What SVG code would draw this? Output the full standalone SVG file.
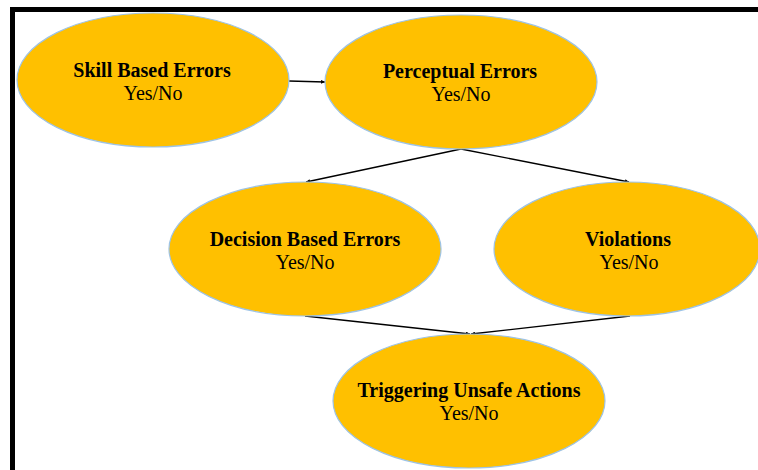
<svg xmlns="http://www.w3.org/2000/svg" width="758" height="470" viewBox="0 0 758 470">
  <style>
    .node ellipse { fill: #FFC000; stroke: #9DC3E6; stroke-width: 1.2; }
    .title { font-family: "Liberation Serif", "Times New Roman", serif; font-weight: bold; font-size: 20px; fill: #000; text-anchor: middle; }
    .sub { font-family: "Liberation Serif", "Times New Roman", serif; font-size: 20px; fill: #000; text-anchor: middle; }
    .edge { stroke: #000; stroke-width: 1.3; fill: none; marker-end: url(#arrow); }
  </style>
  <defs>
    <marker id="arrow" viewBox="0 0 6 6" refX="6" refY="3" markerWidth="4" markerHeight="4" orient="auto" markerUnits="userSpaceOnUse">
      <path d="M0,0 L6,3 L0,6 Z" fill="#000"/>
    </marker>
  </defs>

  <rect width="758" height="470" fill="#fff"/>

  <!-- frame -->
  <g id="frame" fill="#000">
    <rect x="10" y="7" width="748" height="5"/>
    <rect x="10" y="7" width="5" height="463"/>
  </g>

  <g id="connectors">
    <line class="edge" x1="289" y1="81" x2="325" y2="82"/>
    <line class="edge" x1="461" y1="149" x2="306" y2="182"/>
    <line class="edge" x1="461" y1="149" x2="629" y2="182"/>
    <line class="edge" x1="305" y1="316" x2="470" y2="334"/>
    <line class="edge" x1="630" y1="316" x2="471" y2="334"/>
  </g>

  <g id="skill" class="node">
    <ellipse cx="153" cy="80" rx="136" ry="67"/>
    <text class="title" x="152" y="77">Skill Based Errors</text>
    <text class="sub" x="153" y="100">Yes/No</text>
  </g>

  <g id="perceptual" class="node">
    <ellipse cx="461" cy="82" rx="136" ry="67"/>
    <text class="title" x="460" y="78">Perceptual Errors</text>
    <text class="sub" x="461" y="101">Yes/No</text>
  </g>

  <g id="decision" class="node">
    <ellipse cx="305" cy="249" rx="136" ry="67"/>
    <text class="title" x="305" y="246">Decision Based Errors</text>
    <text class="sub" x="305" y="269">Yes/No</text>
  </g>

  <g id="violations" class="node">
    <ellipse cx="627" cy="249" rx="133" ry="67"/>
    <text class="title" x="628" y="246">Violations</text>
    <text class="sub" x="629" y="269">Yes/No</text>
  </g>

  <g id="triggering" class="node">
    <ellipse cx="469" cy="401" rx="136" ry="67"/>
    <text class="title" x="469" y="397">Triggering Unsafe Actions</text>
    <text class="sub" x="469" y="420">Yes/No</text>
  </g>
</svg>
